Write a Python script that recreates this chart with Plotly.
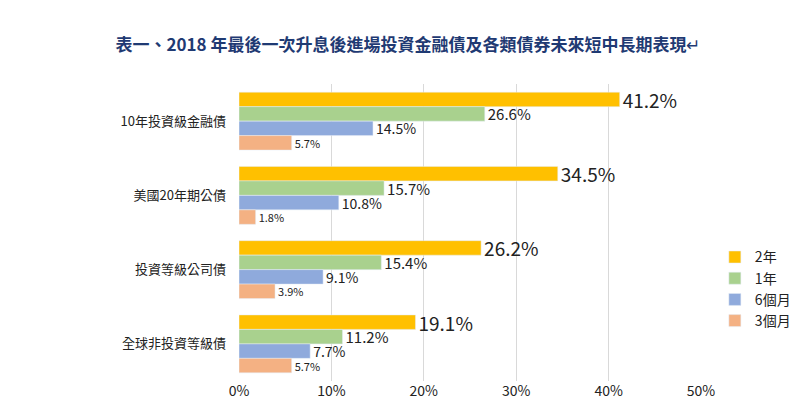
import plotly.graph_objects as go

categories = ["10年投資級金融債", "美國20年期公債", "投資等級公司債", "全球非投資等級債"]
series_names = ["2年", "1年", "6個月", "3個月"]
values_2y = [41.2, 34.5, 26.2, 19.1]
values_1y = [26.6, 15.7, 15.4, 11.2]
values_6m = [14.5, 10.8, 9.1, 7.7]
values_3m = [5.7, 1.8, 3.9, 5.7]

colors = ["#FFC000", "#A9D18E", "#8FAADC", "#F4B183"]
label_sizes = [19, 15, 14, 11]

fig = go.Figure()
for name, vals, col, fs in zip(series_names, [values_2y, values_1y, values_6m, values_3m], colors, label_sizes):
    fig.add_trace(go.Bar(
        y=categories, x=vals, name=name, orientation="h",
        marker_color=col,
        text=[f"{v}%" for v in vals], textposition="outside",
        textfont=dict(size=fs, color="#222"), cliponaxis=False,
        constraintext="none",
    ))

fig.update_layout(
    width=800, height=419,
    paper_bgcolor="white", plot_bgcolor="white",
    font=dict(family="Noto Sans CJK TC", color="#222"),
    title=dict(text="<b>表一、2018 年最後一次升息後進場投資金融債及各類債券未來短中長期表現</b>↵",
               x=0.5, xanchor="center", y=0.925, font=dict(size=17, color="#1F3A73")),
    barmode="group", bargap=0.22, bargroupgap=0,
    margin=dict(l=231, r=97, t=76, b=46),
    xaxis=dict(range=[0, 50], dtick=10, ticksuffix="%", showgrid=True, gridcolor="#D9D9D9",
               zeroline=False, tickfont=dict(size=14)),
    yaxis=dict(autorange="reversed", tickfont=dict(size=13), ticks="", ticklabelstandoff=12),
    legend=dict(x=1.03, y=0.47, xanchor="left", yanchor="top", font=dict(size=14),
                itemwidth=30, tracegroupgap=6),
    showlegend=True,
)

fig.write_html("out.html")
